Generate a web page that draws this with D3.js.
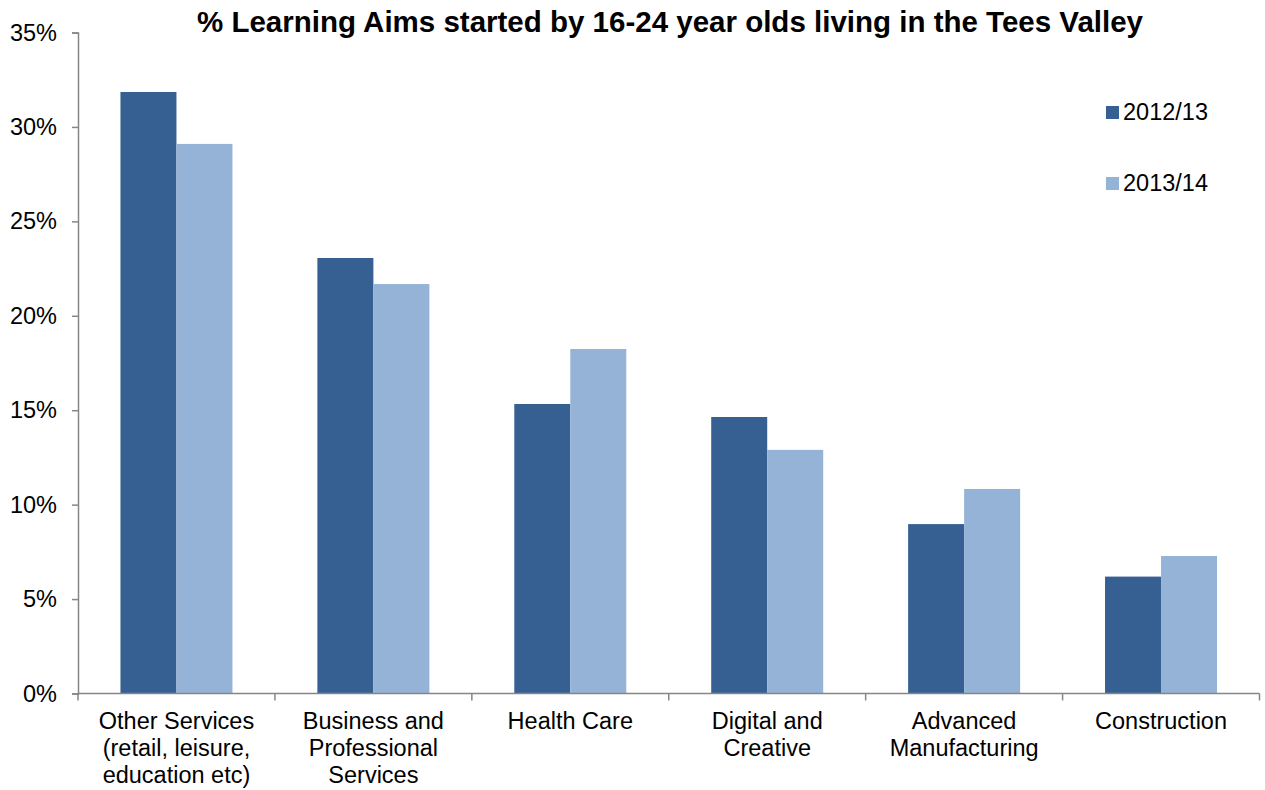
<!DOCTYPE html>
<html>
<head>
<meta charset="utf-8">
<script src="https://cdn.jsdelivr.net/npm/d3@7"></script>
<style>
  html, body { margin: 0; padding: 0; background: #fff; }
  svg { display: block; font-family: "Liberation Sans", Arial, sans-serif; }
</style>
</head>
<body>
<svg id="chart" width="1265" height="790"></svg>
<script>
// Sector labels (each entry is a list of wrapped lines)
const categories = [
  ["Other Services", "(retail, leisure,", "education etc)"],
  ["Business and", "Professional", "Services"],
  ["Health Care"],
  ["Digital and", "Creative"],
  ["Advanced", "Manufacturing"],
  ["Construction"]
];
const seriesNames = ["2012/13", "2013/14"];
const values2012 = [31.85, 23.06, 15.33, 14.64, 8.97, 6.19];
const values2013 = [29.10, 21.68, 18.24, 12.90, 10.83, 7.28];
const yTicks = [0, 5, 10, 15, 20, 25, 30, 35];
const colors = ["#376092", "#95B3D7"];

const svg = d3.select("#chart");
const plot = { left: 78, right: 1259.5, top: 32.5, bottom: 693.5 };
const labelSize = 23.5;

const keys = categories.map((c, i) => "c" + i);
const x = d3.scaleBand().domain(keys).range([plot.left, plot.right]).padding(0);
const xSub = d3.scaleBand().domain(seriesNames).range([0, x.bandwidth()])
  .paddingInner(0).paddingOuter(0.758);
const y = d3.scaleLinear().domain([0, 35]).range([plot.bottom, plot.top]);

const rows = keys.map((k, i) => ({ key: k, vals: [values2012[i], values2013[i]] }));

// Bars
const groups = svg.append("g").selectAll("g").data(rows).join("g")
  .attr("transform", d => `translate(${x(d.key)},0)`);
groups.selectAll("rect")
  .data(d => d.vals.map((v, j) => ({ name: seriesNames[j], v, j })))
  .join("rect")
  .attr("x", d => xSub(d.name))
  .attr("width", xSub.bandwidth())
  .attr("y", d => y(d.v))
  .attr("height", d => y(0) - y(d.v))
  .attr("fill", d => colors[d.j]);

// Y axis
const yAxis = svg.append("g")
  .attr("transform", `translate(${plot.left},0)`)
  .call(d3.axisLeft(y).tickValues(yTicks).tickFormat(d => d + "%").tickSize(6).tickPadding(15));
yAxis.select(".domain").attr("stroke", "#868686").attr("stroke-width", 1.5);
yAxis.selectAll(".tick line").attr("stroke", "#868686").attr("stroke-width", 1.5);
yAxis.selectAll(".tick text")
  .attr("fill", "#000").attr("font-size", labelSize)
  .attr("font-family", "'Liberation Sans', Arial, sans-serif");

// X axis: baseline plus boundary ticks between categories
const xAxis = svg.append("g");
xAxis.append("line")
  .attr("x1", plot.left).attr("x2", plot.right)
  .attr("y1", y(0)).attr("y2", y(0))
  .attr("stroke", "#868686").attr("stroke-width", 1.5);
const bounds = keys.map(k => x(k)).concat([plot.right]);
xAxis.selectAll("line.b").data(bounds).join("line")
  .attr("class", "b")
  .attr("x1", d => d).attr("x2", d => d)
  .attr("y1", y(0)).attr("y2", y(0) + 7)
  .attr("stroke", "#868686").attr("stroke-width", 1.5);

const labels = xAxis.selectAll("text.cat").data(rows).join("text")
  .attr("class", "cat")
  .attr("text-anchor", "middle")
  .attr("font-size", labelSize)
  .attr("fill", "#000")
  .attr("transform", d => `translate(${x(d.key) + x.bandwidth() / 2},${y(0) + 35.5})`);
labels.selectAll("tspan").data((d, i) => categories[i]).join("tspan")
  .attr("x", 0)
  .attr("dy", (d, i) => i === 0 ? 0 : 27)
  .text(d => d);

// Title
svg.append("text")
  .attr("x", 670).attr("y", 32)
  .attr("text-anchor", "middle")
  .attr("font-size", 29.5).attr("font-weight", "bold")
  .attr("fill", "#000")
  .text("% Learning Aims started by 16-24 year olds living in the Tees Valley");

// Legend
const legend = svg.append("g").selectAll("g").data(seriesNames).join("g")
  .attr("transform", (d, i) => `translate(1106,${106 + i * 71})`);
legend.append("rect").attr("width", 13).attr("height", 13)
  .attr("fill", (d, i) => colors[i]);
legend.append("text").attr("x", 17).attr("y", 13.5)
  .attr("font-size", labelSize).attr("fill", "#000").text(d => d);
</script>
</body>
</html>
